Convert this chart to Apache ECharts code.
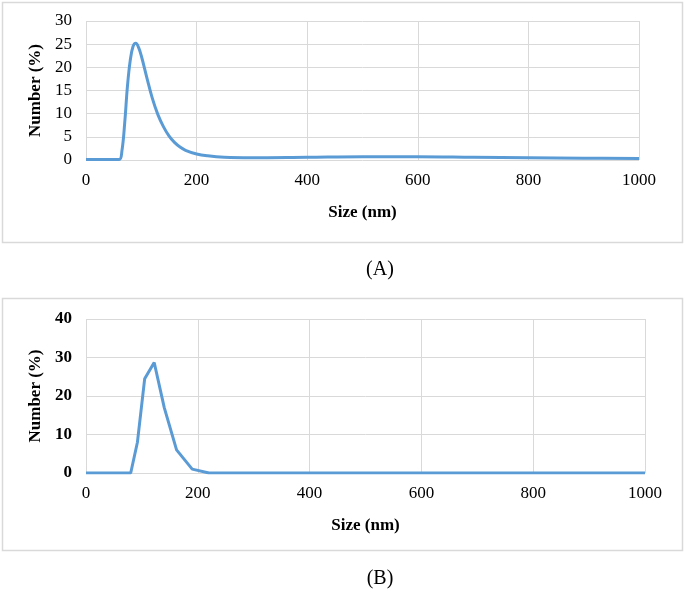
<!DOCTYPE html><html><head><meta charset="utf-8"><script src="https://cdn.jsdelivr.net/npm/echarts@6/dist/echarts.min.js"></script>
<style>body{margin:0;background:#fff}#c{width:685px;height:597px}</style></head><body><div id="c"></div><script>
const sizeA=[0,40,60,65,70,75,80,85,90,95,100,110,120,130,140,150,160,170,180,200,220,250,300,400,500,600,700,800,900,1000];
const numA=[0.1,0.1,0.1,2,8,16,21.5,24.5,25.2,24.3,22.5,17.8,13.3,9.8,7.2,5.2,3.8,2.8,2.1,1.3,0.9,0.6,0.5,0.6,0.7,0.7,0.6,0.5,0.4,0.3];
const sizeB=[0,80,92,105,122,140,162,190,220,400,600,800,1000];
const numB=[0,0,8,24.5,28.7,17,6,1,0,0,0,0,0];
const font='Liberation Serif';
const ch=echarts.init(document.getElementById('c'));
const ax={type:'value',min:0,max:1000,interval:200,axisLine:{show:false},axisTick:{show:false},splitLine:{lineStyle:{color:'#d9d9d9'}},axisLabel:{fontFamily:font,fontSize:17,color:'#000',margin:12,formatter:v=>String(v)},nameLocation:'middle',name:'Size (nm)',nameGap:44,nameTextStyle:{fontFamily:font,fontSize:17,fontWeight:'bold',color:'#000'}};
const ay={type:'value',min:0,axisLine:{show:false},axisTick:{show:false},splitLine:{lineStyle:{color:'#d9d9d9'}},nameLocation:'middle',name:'Number (%)',nameGap:42,nameTextStyle:{fontFamily:font,fontSize:17,fontWeight:'bold',color:'#000'}};
ch.setOption({animation:false,
grid:[{left:86,right:46,top:21,height:139},{left:86,right:40,top:319,height:154}],
xAxis:[Object.assign({gridIndex:0},ax),Object.assign({gridIndex:1},ax)],
yAxis:[Object.assign({gridIndex:0,max:30,interval:5,axisLabel:{fontFamily:font,fontSize:17,color:'#000',margin:14}},ay),
Object.assign({gridIndex:1,max:40,interval:10,axisLabel:{fontFamily:font,fontSize:17,fontWeight:'bold',color:'#000',margin:14}},ay)],
series:[{type:'line',xAxisIndex:0,yAxisIndex:0,data:sizeA.map((x,i)=>[x,numA[i]]),smooth:0.4,showSymbol:false,lineStyle:{color:'#5b9bd5',width:3}},
{type:'line',xAxisIndex:1,yAxisIndex:1,data:sizeB.map((x,i)=>[x,numB[i]]),showSymbol:false,lineStyle:{color:'#5b9bd5',width:3}}],
graphic:[{type:'rect',shape:{x:2.5,y:2.5,width:680,height:240},style:{fill:'none',stroke:'#d9d9d9',lineWidth:1.5}},
{type:'rect',shape:{x:2.5,y:298.5,width:680,height:252},style:{fill:'none',stroke:'#d9d9d9',lineWidth:1.5}},
{type:'text',x:380,y:270,style:{text:'(A)',font:'20px "Liberation Serif"',fill:'#000',align:'center',verticalAlign:'middle'}},
{type:'text',x:380,y:579,style:{text:'(B)',font:'20px "Liberation Serif"',fill:'#000',align:'center',verticalAlign:'middle'}}]});
</script></body></html>
